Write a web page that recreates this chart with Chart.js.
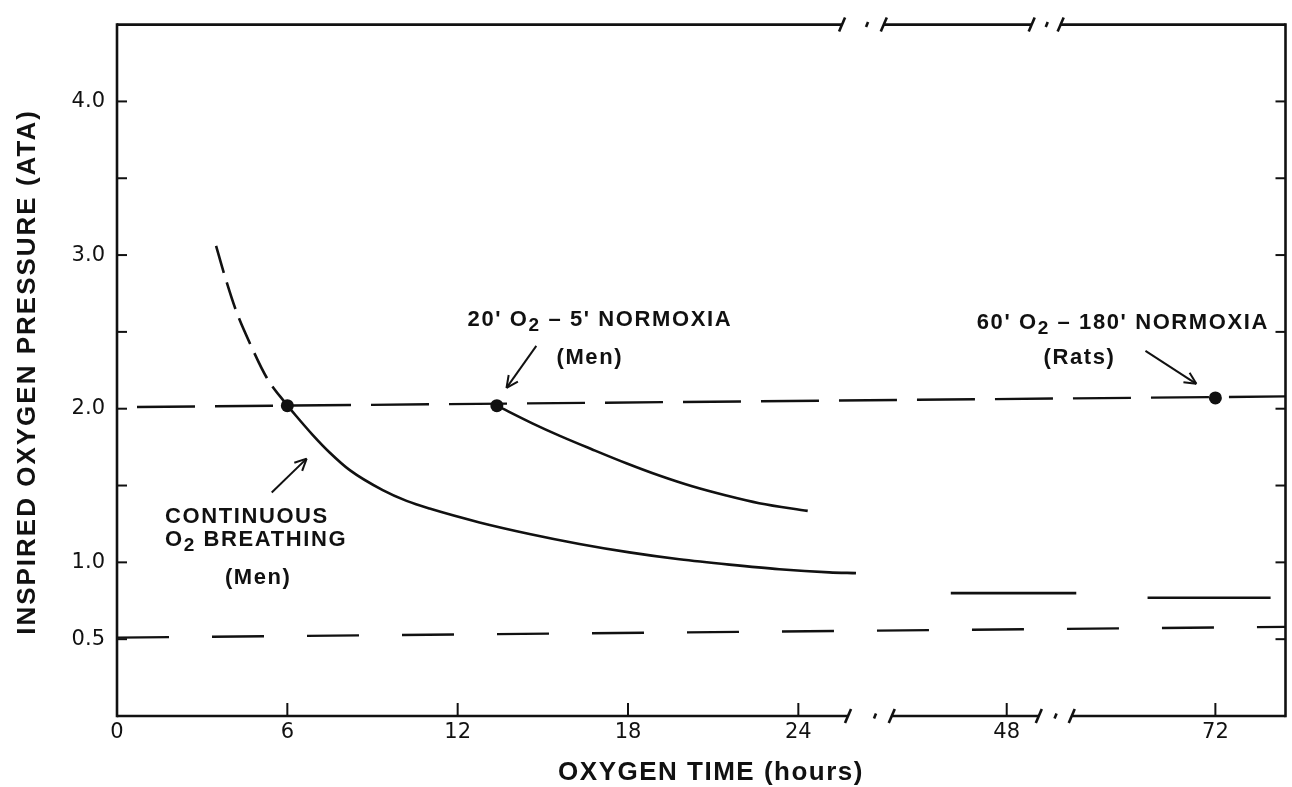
<!DOCTYPE html>
<html>
<head>
<meta charset="utf-8">
<script src="https://cdn.jsdelivr.net/npm/chart.js@4.4.1/dist/chart.umd.min.js"></script>
<style>
html, body { margin: 0; padding: 0; background: #fff; }
#wrap { width: 1292px; height: 787px; }
</style>
</head>
<body>
<div id="wrap"><canvas id="o2Chart" width="1292" height="787"></canvas></div>
<script>
// broken x axis: real hours -> plotted position
const axisHours = [0, 26.5, 48, 72, 80];
const axisPos = [0, 26.5, 31.34, 38.69, 41.16];
const xTickHours = [0, 6, 12, 18, 24, 48, 72];
const yTickValues = [0.5, 1.0, 2.0, 3.0, 4.0];
const yMinorValues = [0.5, 1.0, 1.5, 2.0, 2.5, 3.0, 3.5, 4.0];

// continuous O2 breathing (men), extrapolated part is dashed
const contDashHours = [3.49, 3.77, 4.19, 4.72, 5.28, 6.0];
const contDashAta = [3.06, 2.88, 2.64, 2.41, 2.20, 2.02];
const contHours = [6.0, 6.89, 7.49, 8.20, 9.36, 10.2, 11.01, 12.77, 14.53, 16.29, 18.05, 19.81, 21.57, 23.33, 25.09, 26.03];
const contAta = [2.02, 1.83, 1.715, 1.60, 1.47, 1.40, 1.35, 1.26, 1.185, 1.12, 1.065, 1.02, 0.985, 0.955, 0.935, 0.93];

// 20' O2 - 5' normoxia (men)
const menIntHours = [13.38, 14.63, 15.58, 16.74, 17.94, 19.10, 20.26, 21.46, 22.62, 24.33];
const menIntAta = [2.02, 1.905, 1.825, 1.735, 1.645, 1.565, 1.495, 1.435, 1.385, 1.335];

// short bars beyond the break
const ratStart = [39.25, 64.2];
const ratEnd = [56.0, 78.3];
const ratAta = [0.80, 0.77];

// reference dashed lines
const refHours = [0, 80];
const ref20Ata = [2.01, 2.08];
const ref05Ata = [0.51, 0.58];

// end points
const dotHours = [6.0, 13.38, 72];
const dotAta = [2.02, 2.02, 2.07];

// axis break marks, in plotted position units [slash, small mark, slash]
const bottomBreaks = [[25.75, 26.70, 27.29], [32.47, 33.06, 33.63]];
const topBreaks = [[25.54, 26.42, 27.01], [32.22, 32.75, 33.24]];

const INK = '#111';

function toPos(h) {
    for (let i = 1; i < axisHours.length; i++) {
        if (h <= axisHours[i]) {
            const t = (h - axisHours[i - 1]) / (axisHours[i] - axisHours[i - 1]);
            return axisPos[i - 1] + t * (axisPos[i] - axisPos[i - 1]);
        }
    }
    return axisPos[axisPos.length - 1];
}

function pts(hours, vals) {
    return hours.map((h, i) => ({ x: toPos(h), y: vals[i] }));
}

function lineSet(data, extra) {
    return Object.assign({
        data: data,
        showLine: true,
        borderColor: INK,
        borderWidth: 2.6,
        pointRadius: 0,
        fill: false,
        borderCapStyle: 'butt'
    }, extra || {});
}

const datasets = [
    lineSet(pts(refHours, ref20Ata), { borderDash: [58, 20], borderDashOffset: 58, borderWidth: 2.4 }),
    lineSet(pts(refHours, ref05Ata), { borderDash: [52, 43], borderWidth: 2.4 }),
    lineSet(pts(contDashHours, contDashAta), { borderDash: [28, 10], cubicInterpolationMode: 'monotone' }),
    lineSet(pts(contHours, contAta), { cubicInterpolationMode: 'monotone' }),
    lineSet(pts(menIntHours, menIntAta), { cubicInterpolationMode: 'monotone' })
];
ratStart.forEach((s, i) => {
    datasets.push(lineSet(pts([s, ratEnd[i]], [ratAta[i], ratAta[i]])));
});
datasets.push({
    data: pts(dotHours, dotAta),
    showLine: false,
    pointRadius: 6.5,
    pointBackgroundColor: INK,
    pointBorderColor: INK,
    pointBorderWidth: 0
});

// labels, anchored in data units (hours, ATA)
const notes = [
    { h: 1.69, v: 1.253, parts: [['CONTINUOUS']] },
    { h: 1.69, v: 1.104, parts: [['O'], ['2', 1], [' BREATHING']] },
    { h: 3.80, v: 0.86, parts: [['(Men)']] },
    { h: 12.35, v: 2.539, parts: [["20' O"], ['2', 1], [" \u2013 5' NORMOXIA"]] },
    { h: 15.48, v: 2.292, parts: [['(Men)']] },
    { h: 43.31, v: 2.519, parts: [["60' O"], ['2', 1], [" \u2013 180' NORMOXIA"]] },
    { h: 52.24, v: 2.292, parts: [['(Rats)']] }
];
const arrows = [
    { from: [5.45, 1.455], to: [6.68, 1.675] },
    { from: [14.77, 2.409], to: [13.72, 2.136] },
    { from: [63.96, 2.377], to: [69.81, 2.162] }
];

function drawRich(ctx, parts, x, y) {
    ctx.textAlign = 'left';
    ctx.textBaseline = 'alphabetic';
    parts.forEach(p => {
        const sub = p[1] === 1;
        ctx.font = sub ? 'bold 19px "Liberation Sans", Arial, sans-serif' : 'bold 22px "Liberation Sans", Arial, sans-serif';
        ctx.fillText(p[0], x, sub ? y + 5 : y);
        x += ctx.measureText(p[0]).width;
    });
}

function seg(ctx, x1, y1, x2, y2) {
    ctx.beginPath();
    ctx.moveTo(x1, y1);
    ctx.lineTo(x2, y2);
    ctx.stroke();
}

function hAxis(ctx, xs, y, left, right, breaks) {
    let start = left;
    breaks.forEach(b => {
        const a = xs.getPixelForValue(b[0]);
        const m = xs.getPixelForValue(b[1]);
        const c = xs.getPixelForValue(b[2]);
        seg(ctx, start, y, a, y);
        seg(ctx, a - 3, y + 7, a + 3, y - 7);
        seg(ctx, m - 1, y + 2.5, m + 1, y - 2.5);
        seg(ctx, c - 3, y + 7, c + 3, y - 7);
        start = c;
    });
    seg(ctx, start, y, right, y);
}

const framePlugin = {
    id: 'frame',
    afterDraw(chart) {
        const ctx = chart.ctx;
        const area = chart.chartArea;
        const xs = chart.scales.x;
        const ys = chart.scales.y;
        ctx.save();
        ctx.strokeStyle = INK;
        ctx.fillStyle = INK;
        ctx.lineWidth = 2.6;
        ctx.lineCap = 'butt';

        // frame
        seg(ctx, area.left, area.top - 1.3, area.left, area.bottom + 1.3);
        seg(ctx, area.right, area.top - 1.3, area.right, area.bottom + 1.3);
        hAxis(ctx, xs, area.bottom, area.left, area.right, bottomBreaks);
        hAxis(ctx, xs, area.top, area.left, area.right, topBreaks);

        // inward tick marks
        ctx.lineWidth = 2;
        yMinorValues.forEach(v => {
            const py = ys.getPixelForValue(v);
            seg(ctx, area.left, py, area.left + 10, py);
            seg(ctx, area.right, py, area.right - 10, py);
        });
        xTickHours.slice(1).forEach(h => {
            const px = xs.getPixelForValue(toPos(h));
            seg(ctx, px, area.bottom, px, area.bottom - 13);
        });

        // arrows
        ctx.lineWidth = 2;
        arrows.forEach(a => {
            const x1 = xs.getPixelForValue(toPos(a.from[0]));
            const y1 = ys.getPixelForValue(a.from[1]);
            const x2 = xs.getPixelForValue(toPos(a.to[0]));
            const y2 = ys.getPixelForValue(a.to[1]);
            seg(ctx, x1, y1, x2, y2);
            const ang = Math.atan2(y2 - y1, x2 - x1);
            [0.45, -0.45].forEach(d => {
                seg(ctx, x2, y2, x2 - 13 * Math.cos(ang + d), y2 - 13 * Math.sin(ang + d));
            });
        });

        // annotations
        ctx.letterSpacing = '1.6px';
        notes.forEach(n => {
            drawRich(ctx, n.parts, xs.getPixelForValue(toPos(n.h)), ys.getPixelForValue(n.v));
        });

        // axis titles
        ctx.letterSpacing = '1.5px';
        ctx.font = 'bold 26px "Liberation Sans", Arial, sans-serif';
        ctx.textAlign = 'center';
        ctx.textBaseline = 'middle';
        ctx.fillText('OXYGEN TIME (hours)', 711, 773);
        ctx.letterSpacing = '2px';
        ctx.translate(28, 372);
        ctx.rotate(-Math.PI / 2);
        ctx.fillText('INSPIRED OXYGEN PRESSURE (ATA)', 0, 0);
        ctx.restore();
    }
};

const tickFont = { family: '"DejaVu Sans", sans-serif', size: 21 };

const config = {
    type: 'scatter',
    data: { datasets: datasets },
    options: {
        responsive: false,
        animation: false,
        events: [],
        layout: { padding: { top: 23, right: 5, left: 0, bottom: 0 } },
        plugins: {
            legend: { display: false },
            tooltip: { enabled: false }
        },
        scales: {
            x: {
                type: 'linear',
                min: 0,
                max: toPos(80),
                grid: { display: false, drawTicks: false },
                border: { display: false },
                afterBuildTicks: s => { s.ticks = xTickHours.map(h => ({ value: toPos(h) })); },
                afterFit: s => { s.height = 71; },
                ticks: {
                    padding: 4,
                    autoSkip: false,
                    maxRotation: 0,
                    color: INK,
                    font: tickFont,
                    callback: (v, i) => String(xTickHours[i])
                }
            },
            y: {
                type: 'linear',
                min: 0,
                max: 4.5,
                grid: { display: false, drawTicks: false },
                border: { display: false },
                afterBuildTicks: s => { s.ticks = yTickValues.map(v => ({ value: v })); },
                afterFit: s => { s.width = 117; },
                ticks: {
                    padding: 12,
                    color: INK,
                    font: tickFont,
                    callback: v => v.toFixed(1)
                }
            }
        }
    },
    plugins: [framePlugin]
};

const O2Chart = new Chart(document.getElementById('o2Chart'), config);
</script>
</body>
</html>
